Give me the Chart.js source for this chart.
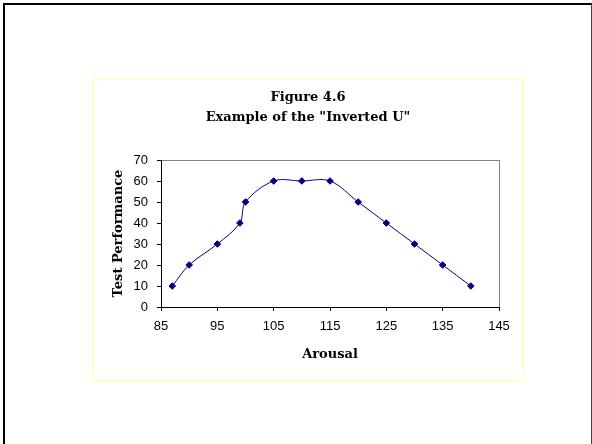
<!DOCTYPE html>
<html>
<head>
<meta charset="utf-8">
<script src="https://cdn.jsdelivr.net/npm/chart.js@4"></script>
<style>
  html, body { margin: 0; padding: 0; background: #fff; width: 592px; height: 444px; overflow: hidden; }
  #frame { position: absolute; left: 3px; top: 3px; width: 586px; height: 500px;
           border-left: 2px solid #000; border-top: 2px solid #000; border-right: 1px solid #444; }
  #box { position: absolute; left: 92px; top: 78px; width: 428px; height: 300px;
         border: 2px solid #FFFFCC; }
  #box canvas { display: block; }
</style>
</head>
<body>
<div id="frame"></div>
<div id="box"><canvas id="c" width="428" height="300"></canvas></div>
<script>
const arousal = [87, 90, 95, 99, 100, 105, 110, 115, 120, 125, 130, 135, 140];
const performance = [10, 20, 30, 40, 50, 60, 60, 60, 50, 40, 30, 20, 10];
const titleLines = ['Figure 4.6', 'Example of the "Inverted U"'];
const xTitle = 'Arousal';
const yTitle = 'Test Performance';

const points = arousal.map((x, i) => ({ x: x, y: performance[i] }));
const serifBold = { family: '"DejaVu Serif", serif', size: 13, weight: 'bold' };
const sans = { family: '"Liberation Sans", Arial, sans-serif', size: 13 };

new Chart(document.getElementById('c'), {
  type: 'line',
  data: {
    datasets: [{
      data: points,
      borderColor: '#000080',
      backgroundColor: '#000080',
      borderWidth: 1,
      tension: 0.35,
      fill: false,
      pointStyle: 'rectRot',
      pointRadius: 3.3,
      pointBorderWidth: 1,
      pointBorderColor: '#000080',
      pointBackgroundColor: '#000080'
    }]
  },
  options: {
    responsive: false,
    animation: false,
    devicePixelRatio: 1,
    layout: { padding: { left: 23, right: 23, top: 0, bottom: 0 } },
    plugins: {
      legend: { display: false },
      tooltip: { enabled: false },
      title: {
        display: true,
        text: titleLines,
        color: '#000',
        font: Object.assign({}, serifBold, { lineHeight: 1.5 }),
        padding: { top: 8, bottom: 33 }
      }
    },
    scales: {
      x: {
        type: 'linear',
        min: 85, max: 145,
        afterFit: s => { s.height = 73; },
        ticks: { stepSize: 10, color: '#000', font: sans, padding: 8, maxRotation: 0 },
        grid: {
          color: c => (c.tick && c.tick.value === 145) ? '#808080' : 'rgba(0,0,0,0)',
          tickColor: '#000',
          tickLength: 4,
          lineWidth: 1
        },
        border: { color: '#000', width: 1 },
        title: { display: true, text: xTitle, color: '#000', font: serifBold, padding: { top: 0, bottom: 18 } }
      },
      y: {
        min: 0, max: 70,
        afterFit: s => { s.width = 44; },
        ticks: { stepSize: 10, color: '#000', font: sans, padding: 9 },
        grid: {
          color: c => (c.tick && c.tick.value === 70) ? '#808080' : 'rgba(0,0,0,0)',
          tickColor: '#000',
          tickLength: 4,
          lineWidth: 1
        },
        border: { color: '#000', width: 1 },
        title: { display: true, text: yTitle, color: '#000', font: serifBold, padding: { top: -6, bottom: 0 } }
      }
    }
  }
});
</script>
</body>
</html>
